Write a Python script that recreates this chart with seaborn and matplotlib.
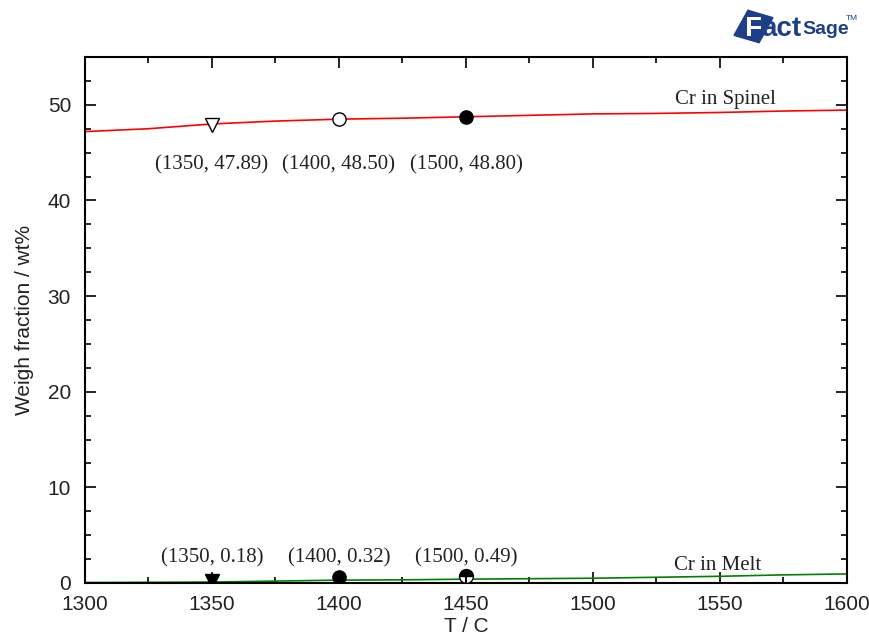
import matplotlib
matplotlib.use("Agg")
import matplotlib.pyplot as plt
import seaborn as sns
import pandas as pd
from matplotlib.ticker import MultipleLocator
from matplotlib.patches import Rectangle
import matplotlib.patheffects as pe

sns.set_theme(style="white")
plt.rcParams['font.family'] = ['Liberation Sans', 'DejaVu Sans']

# Data
temps = [1300, 1325, 1350, 1375, 1400, 1425, 1450, 1475, 1500, 1525, 1550, 1575, 1600]
cr_spinel = [47.2, 47.5, 48.0, 48.3, 48.5, 48.6, 48.75, 48.9, 49.05, 49.1, 49.2, 49.35, 49.45]
cr_melt = [0.05, 0.07, 0.1, 0.2, 0.3, 0.33, 0.4, 0.45, 0.5, 0.6, 0.7, 0.85, 0.95]

pt_x = [1350, 1400, 1450]
pt_spinel = [47.89, 48.50, 48.70]
pt_melt = [0.25, 0.65, 0.75]
spinel_labels = ["(1350, 47.89)", "(1400, 48.50)", "(1500, 48.80)"]
melt_labels = ["(1350, 0.18)", "(1400, 0.32)", "(1500, 0.49)"]

df = pd.DataFrame({"T": temps, "Spinel": cr_spinel, "Melt": cr_melt})

W, H = 870, 634
fig = plt.figure(figsize=(8.7, 6.34), dpi=100)
ax = fig.add_axes([85/W, 1-583/H, (847-85)/W, (583-57)/H])

sns.lineplot(data=df, x="T", y="Spinel", color="#ff0000", lw=1.2, ax=ax)
sns.lineplot(data=df, x="T", y="Melt", color="#008000", lw=1.2, ax=ax)

# Spinel markers
ax.plot(pt_x[0], pt_spinel[0], marker='v', ms=10, mfc='white', mec='black', mew=1, ls='none', zorder=5)
ax.plot(pt_x[1], pt_spinel[1], marker='o', ms=9.5, mfc='white', mec='black', mew=1, ls='none', zorder=5)
ax.plot(pt_x[2], pt_spinel[2], marker='o', ms=9.5, mfc='black', mec='black', mew=1, ls='none', zorder=3)
# Melt markers
ax.plot(pt_x[0], pt_melt[0], marker='v', ms=10, mfc='black', mec='black', ls='none', zorder=5)
ax.plot(pt_x[1], pt_melt[1], marker='o', ms=9.5, mfc='black', mec='black', ls='none', zorder=5)
ax.plot([pt_x[2], pt_x[2]], [0, pt_melt[2]], color='black', lw=1.5, zorder=5)
ax.plot(pt_x[2], pt_melt[2], marker='o', ms=10, fillstyle='top', mfc='black',
        markerfacecoloralt='white', mec='black', mew=1, ls='none', zorder=4)

serif = ['Liberation Serif', 'DejaVu Serif']
for x, lab in zip(pt_x, spinel_labels):
    ax.text(x, 43.7, lab, ha='center', va='center', fontsize=15, family=serif, color='#222222')
for x, lab in zip(pt_x, melt_labels):
    ax.text(x, 2.6, lab, ha='center', va='center', fontsize=15, family=serif, color='#222222')
ax.text(1552, 50.6, "Cr in Spinel", ha='center', va='center', fontsize=15, family=serif, color='#222222')
ax.text(1549, 1.85, "Cr in Melt", ha='center', va='center', fontsize=15, family=serif, color='#222222')

ax.set_xlim(1300, 1600)
ax.set_ylim(0, 55)
ax.xaxis.set_major_locator(MultipleLocator(50))
ax.xaxis.set_minor_locator(MultipleLocator(25))
ax.yaxis.set_major_locator(MultipleLocator(10))
ax.yaxis.set_minor_locator(MultipleLocator(2.5))
ax.tick_params(which='both', direction='in', top=True, right=True, bottom=True, left=True,
               colors='black', labelcolor='#222222', width=1.2)
ax.tick_params(which='major', length=8, labelsize=15)
ax.tick_params(axis='x', which='major', pad=9)
ax.tick_params(axis='y', which='major', pad=10)
ax.tick_params(which='minor', length=4)
for s in ax.spines.values():
    s.set_color('black')
    s.set_linewidth(1.5)

ax.set_xlabel("T / C", fontsize=15, color='#222222', va='center')
ax.xaxis.set_label_coords(0.5, (583 - 626) / 526)
ax.set_ylabel("Weigh fraction / wt%", fontsize=15, color='#222222', va='center')
ax.yaxis.set_label_coords((25 - 85) / 762, 0.5)

# FactSage logo (approximation)
blue = '#1c3f87'
fig.patches.append(Rectangle((740/W, 1-40/H), 27/W, 27/H, angle=-22, color=blue,
                             transform=fig.transFigure, figure=fig, rotation_point='center'))
fig.text(745/W, 1-29/H, "F", fontsize=20, fontweight='bold', color='white', va='center', ha='left',
         path_effects=[pe.withStroke(linewidth=1.5, foreground=blue)])
fig.text(761/W, 1-29/H, "act", fontsize=20, fontweight='bold', color=blue, va='center', ha='left')
fig.text(802/W, 1-29/H, "Sage", fontsize=14, fontweight='bold', color=blue, va='center', ha='left')
fig.text(846/W, 1-19/H, "TM", fontsize=6, color=blue, va='center', ha='left')

fig.savefig("out.png", dpi=100)
